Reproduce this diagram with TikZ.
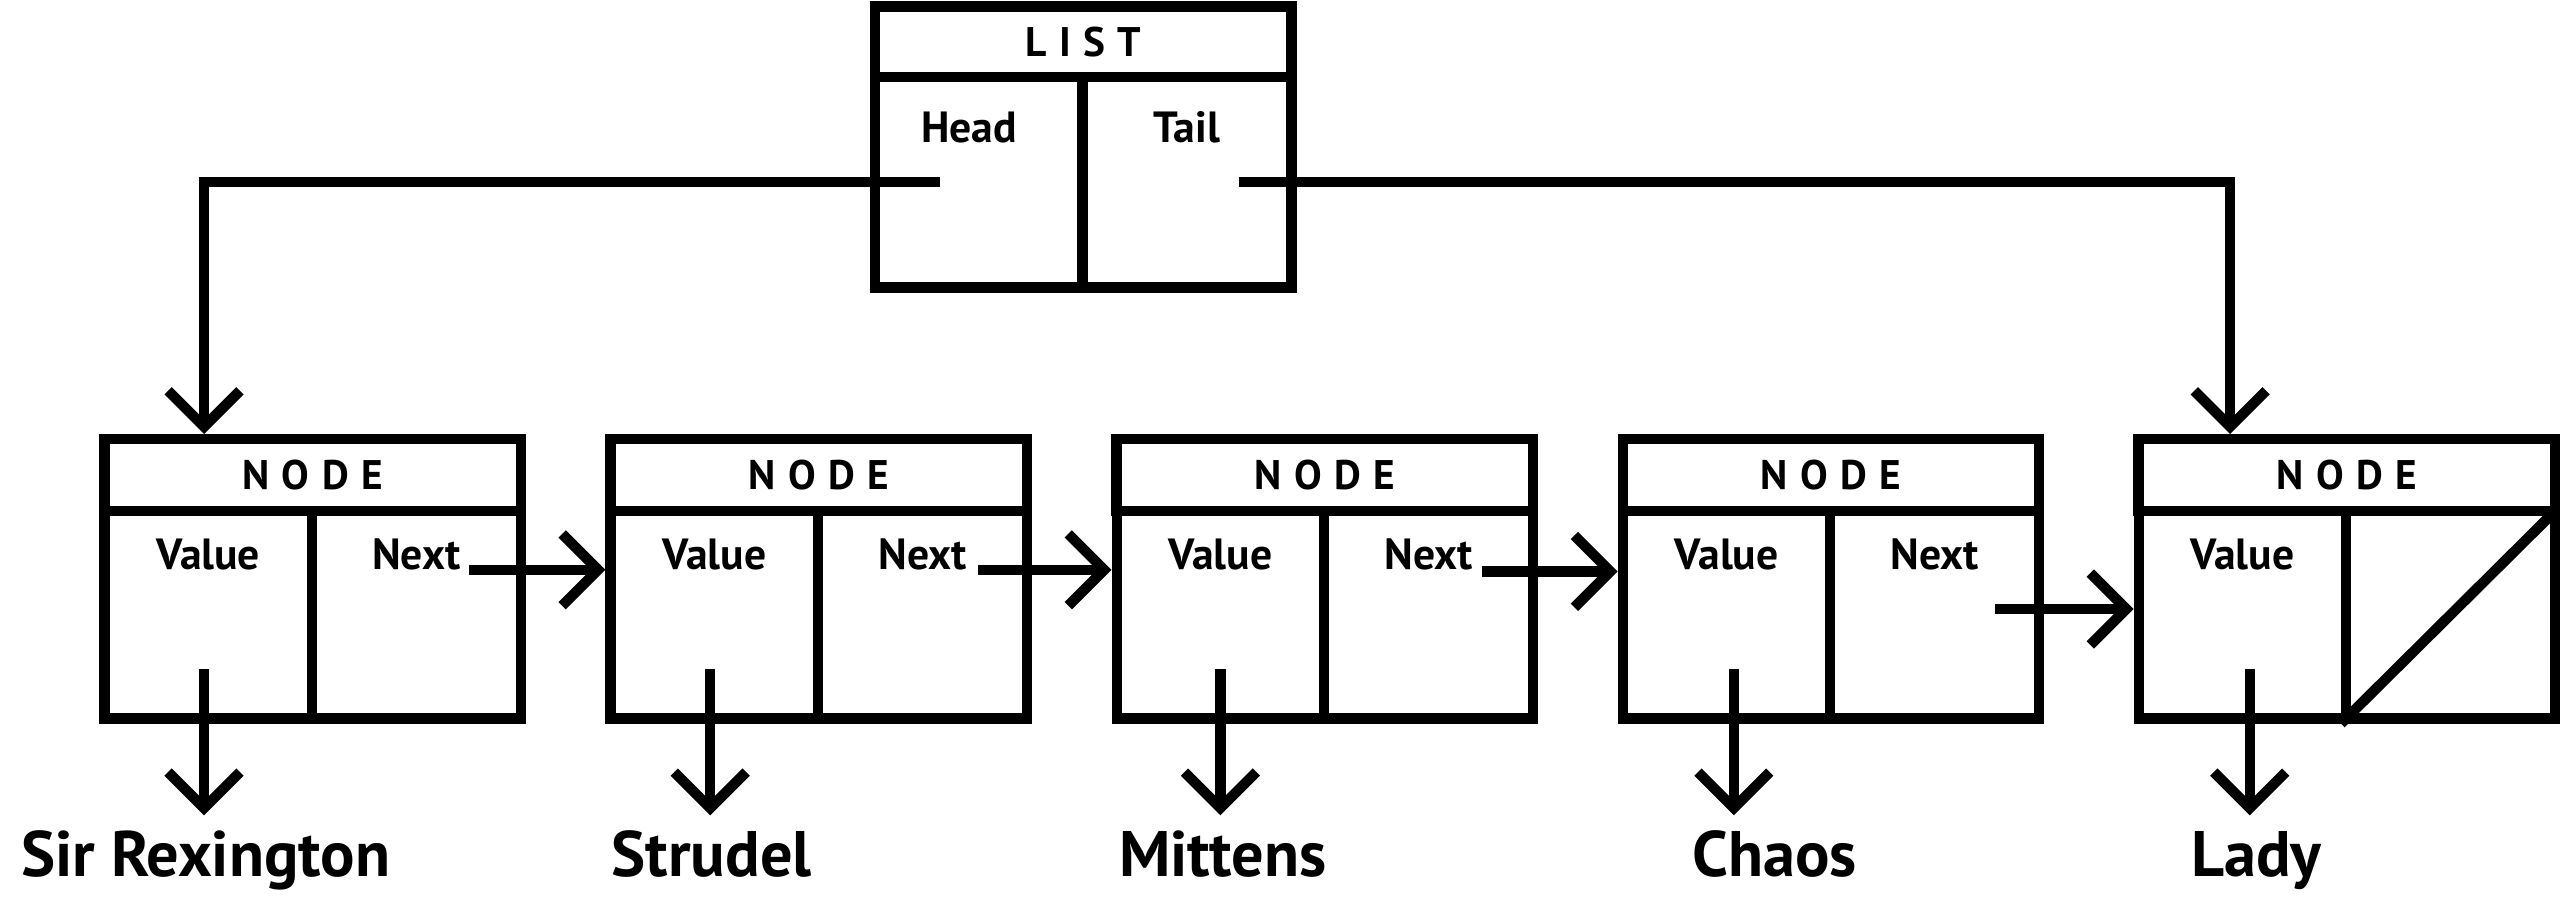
\documentclass[tikz,border=0pt]{standalone}
\usepackage{fontspec}
\setmainfont{PT Sans}
\newfontfamily\spacedfont[LetterSpace=30]{PT Sans}
\usetikzlibrary{arrows.meta, positioning, calc}

\tikzset{
  hdrbox/.style={draw, line width=1.8pt, inner sep=0pt, minimum width=2.55cm,
    minimum height=0.44cm, font=\spacedfont\bfseries\fontsize{7.2}{8}\selectfont},
  cellbox/.style={draw, line width=1.8pt, inner sep=0pt, minimum width=1.27cm,
    minimum height=1.27cm},
  celltext/.style={font=\bfseries\fontsize{7.6}{9}\selectfont, inner sep=0pt},
  valname/.style={font=\bfseries\fontsize{11.2}{13}\selectfont, anchor=base,
    text height=7.5pt, text depth=2.5pt, inner sep=3pt},
  ptr/.style={-{Straight Barb[length=2.2mm, width=4.4mm]}, line width=1.8pt}
}

\begin{document}
\begin{tikzpicture}[x=0.01cm, y=-0.01cm]
  \useasboundingbox (0,0) rectangle (1568,553);

  % List box
  \node[hdrbox, minimum height=0.43cm] (list) at (663.5,25.5) {LIST};
  \node[cellbox, minimum height=1.29cm] (head) at (599.5,111.5) {};
  \node[cellbox, minimum height=1.29cm, minimum width=1.28cm] (tail) at (727,111.5) {};
  \node[celltext] at ([xshift=-0.06cm, yshift=-0.34cm]head.north) {Head};
  \node[celltext] at ([yshift=-0.34cm]tail.north) {Tail};

  % Linked nodes
  \foreach \i/\x in {1/64, 2/374, 3/684, 4/994, 5/1310} {
    \node[hdrbox] (n\i) at (\x+127.5,291) {NODE};
    \node[cellbox] (n\i-v) at (\x+63.5,376.5) {};
    \node[cellbox, minimum width=1.28cm] (n\i-n) at (\x+191,376.5) {};
    \node[celltext] at ([yshift=-0.3cm]n\i-v.north) {Value};
  }
  \foreach \i in {1,...,4}
    \node[celltext] at ([yshift=-0.3cm]n\i-n.north) {Next};
  \draw[line width=1.8pt] (n5-n.south west) -- (n5-n.north east);

  % Head and tail pointers
  \coordinate (hp) at ([xshift=-0.235cm]head.center);
  \coordinate (tp) at ([xshift=0.32cm]tail.center);
  \draw[ptr] (hp) -| ([xshift=-0.025cm]n1-v.center |- n1.north);
  \draw[ptr] (tp) -| ([xshift=-0.075cm]n5-v.center |- n5.north);

  % Next pointers
  \coordinate (p1) at ([xshift=0.32cm, yshift=0.275cm]n1-n.center);
  \coordinate (p2) at ([xshift=0.34cm, yshift=0.275cm]n2-n.center);
  \coordinate (p3) at ([xshift=0.33cm, yshift=0.265cm]n3-n.center);
  \coordinate (p4) at ([xshift=0.37cm, yshift=0.035cm]n4-n.center);
  \draw[ptr] (p1) -- (p1 -| n2-v.west);
  \draw[ptr] (p2) -- (p2 -| n3-v.west);
  \draw[ptr] (p3) -- (p3 -| n4-v.west);
  \draw[ptr] (p4) -- (p4 -| n5-v.west);

  % Values
  \node[valname] (v1) at (126,537) {Sir Rexington};
  \node[valname] (v2) at (436,537) {Strudel};
  \node[valname] (v3) at (749,537) {Mittens};
  \node[valname] (v4) at (1087,537) {Chaos};
  \node[valname] (v5) at (1382,537) {Lady};
  \foreach \i/\dx in {1/-0.025, 2/-0.025, 3/0.0, 4/0.045, 5/0.045}
    \draw[ptr] ([xshift=\dx cm, yshift=-0.335cm]n\i-v.center)
      -- ([xshift=\dx cm]n\i-v.center |- v\i.north);
\end{tikzpicture}
\end{document}
